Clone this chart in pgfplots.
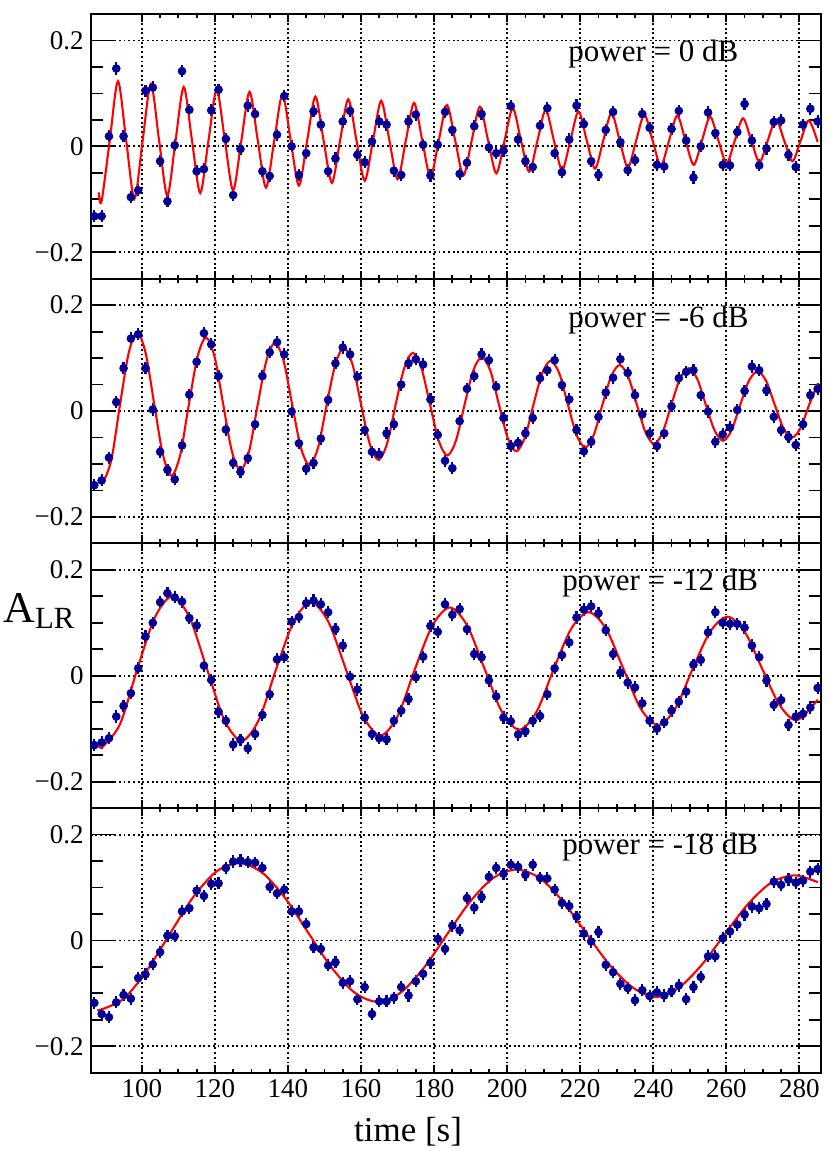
\documentclass[border=0pt]{standalone}
\usepackage{fontspec}
\setmainfont{Liberation Serif}
\usepackage{pgfplots}
\pgfplotsset{compat=1.18}

\definecolor{ptblue}{RGB}{0,0,153}
\definecolor{fitred}{RGB}{255,0,0}

% one pad of the canvas; 1 px of the reference = 0.5pt
\pgfplotsset{
  panel/.style={
    anchor=north west,
    width=365.3pt, height=132.35pt, scale only axis,
    xmin=86, xmax=286, ymin=-0.25, ymax=0.25,
    xtick={100,120,...,280}, minor x tick num=3,
    ytick={-0.2,0,0.2}, yticklabels={−0.2,0,0.2}, minor y tick num=3,
    tick align=inside,
    axis line style={line width=1pt},
    tick style={black, line width=0.9pt},
    xtick style={/pgfplots/major tick length=4pt, /pgfplots/minor tick length=2pt},
    ytick style={/pgfplots/major tick length=12pt, /pgfplots/minor tick length=6pt},
    grid=major,
    grid style={black, line width=0.95pt, dash pattern=on 0.95pt off 1.4pt},
    /pgf/number format/assume math mode=true,
    ticklabel style={font=\fontsize{13.5}{13.5}\selectfont},
  },
  pts/.style={only marks, mark=*, mark size=1.95pt, color=ptblue,
    error bars/.cd, y dir=both, y fixed=0.0115, error mark=none,
    error bar style={line width=1.1pt, color=ptblue}},
  fit/.style={no marks, smooth, color=fitred, line width=1.05pt},
}

\begin{document}
\begin{tikzpicture}
\path[use as bounding box] (0,0) rectangle (415pt,-575.5pt);

% ---- power = 0 dB
\begin{axis}[panel, at={(45.35pt,-7pt)}, xticklabels={}]
\addplot[pts] coordinates {
(87,-0.132)(89,-0.132)(91,0.019)(93,0.147)(95,0.019)(97,-0.096)(99,-0.083)(101,0.105)
(103,0.111)(105,-0.028)(107,-0.104)(109,0.002)(111,0.142)(113,0.069)(115,-0.047)(117,-0.043)
(119,0.068)(121,0.107)(123,0.014)(125,-0.092)(127,-0.005)(129,0.077)(131,0.061)(133,-0.047)
(135,-0.056)(137,0.022)(139,0.095)(141,0.000)(143,-0.054)(145,-0.013)(147,0.066)(149,0.041)
(151,-0.047)(153,-0.023)(155,0.047)(157,0.067)(159,-0.016)(161,-0.030)(163,0.009)(165,0.047)
(167,0.041)(169,-0.046)(171,-0.054)(173,0.047)(175,0.060)(177,0.003)(179,-0.055)(181,0.003)
(183,0.065)(185,0.031)(187,-0.052)(189,-0.031)(191,0.038)(193,0.061)(195,-0.002)(197,-0.013)
(199,-0.008)(201,0.076)(203,0.013)(205,-0.028)(207,-0.039)(209,0.039)(211,0.072)(213,-0.013)
(215,-0.049)(217,0.013)(219,0.077)(221,0.042)(223,-0.028)(225,-0.054)(227,0.031)(229,0.065)
(231,0.008)(233,-0.045)(235,-0.026)(237,0.061)(239,0.035)(241,-0.035)(243,-0.038)(245,0.033)
(247,0.067)(249,0.011)(251,-0.059)(253,0.000)(255,0.064)(257,0.025)(259,-0.035)(261,-0.036)
(263,0.027)(265,0.080)(267,0.011)(269,-0.036)(271,-0.004)(273,0.046)(275,0.049)(277,-0.016)
(279,-0.039)(281,0.041)(283,0.071)(285,0.047)};
\addplot[fit] coordinates {
(88.2,-0.087)(88.97,-0.104)(91.22,0.011)(93.47,0.123)(95.72,0.011)(97.97,-0.099)
(100.22,0.011)(102.48,0.118)(104.73,0.011)(106.98,-0.093)(109.23,0.011)(111.48,0.112)
(113.73,0.011)(115.98,-0.088)(118.24,0.011)(120.49,0.107)(122.74,0.011)(124.99,-0.083)
(127.24,0.011)(129.49,0.103)(131.74,0.011)(133.99,-0.078)(136.25,0.011)(138.5,0.098)
(140.75,0.011)(143.0,-0.074)(145.26,0.011)(147.51,0.094)(149.76,0.011)(152.01,-0.069)
(154.26,0.011)(156.51,0.089)(158.76,0.011)(161.01,-0.065)(163.27,0.011)(165.52,0.086)
(167.77,0.011)(170.02,-0.062)(172.27,0.011)(174.52,0.082)(176.77,0.011)(179.02,-0.058)
(181.28,0.011)(183.53,0.078)(185.78,0.011)(188.03,-0.055)(190.29,0.011)(192.54,0.075)
(194.79,0.011)(197.04,-0.051)(199.29,0.011)(201.54,0.072)(203.79,0.011)(206.04,-0.048)
(208.3,0.011)(210.55,0.069)(212.8,0.011)(215.05,-0.045)(217.3,0.011)(219.55,0.066)
(221.8,0.011)(224.05,-0.042)(226.31,0.011)(228.56,0.063)(230.81,0.011)(233.06,-0.040)
(235.32,0.011)(237.57,0.060)(239.82,0.011)(242.07,-0.037)(244.32,0.011)(246.57,0.058)
(248.82,0.011)(251.07,-0.035)(253.33,0.011)(255.58,0.056)(257.83,0.011)(260.08,-0.032)
(262.33,0.011)(264.58,0.053)(266.83,0.011)(269.08,-0.030)(271.34,0.011)(273.59,0.051)
(275.84,0.011)(278.09,-0.028)(280.35,0.011)(282.6,0.049)(285.0,0.008)};
\end{axis}

% ---- power = -6 dB
\begin{axis}[panel, at={(45.35pt,-139.35pt)}, xticklabels={}]
\addplot[pts] coordinates {
(87,-0.140)(89,-0.131)(91,-0.088)(93,0.017)(95,0.081)(97,0.137)(99,0.145)(101,0.081)
(103,0.003)(105,-0.077)(107,-0.111)(109,-0.129)(111,-0.065)(113,0.031)(115,0.093)(117,0.147)
(119,0.126)(121,0.066)(123,-0.035)(125,-0.098)(127,-0.115)(129,-0.089)(131,-0.025)(133,0.066)
(135,0.111)(137,0.130)(139,0.107)(141,-0.001)(143,-0.061)(145,-0.109)(147,-0.098)(149,-0.052)
(151,0.021)(153,0.090)(155,0.120)(157,0.107)(159,0.065)(161,-0.036)(163,-0.077)(165,-0.082)
(167,-0.042)(169,-0.025)(171,0.050)(173,0.090)(175,0.098)(177,0.088)(179,0.022)(181,-0.045)
(183,-0.094)(185,-0.108)(187,-0.019)(189,0.042)(191,0.066)(193,0.107)(195,0.096)(197,0.046)
(199,-0.013)(201,-0.066)(203,-0.060)(205,-0.042)(207,-0.013)(209,0.062)(211,0.077)(213,0.096)
(215,0.049)(217,0.022)(219,-0.036)(221,-0.076)(223,-0.058)(225,-0.011)(227,0.035)(229,0.063)
(231,0.098)(233,0.072)(235,0.030)(237,-0.006)(239,-0.042)(241,-0.066)(243,-0.042)(245,0.009)
(247,0.062)(249,0.074)(251,0.077)(253,0.030)(255,-0.001)(257,-0.058)(259,-0.044)(261,-0.031)
(263,0.002)(265,0.038)(267,0.084)(269,0.077)(271,0.039)(273,-0.011)(275,-0.036)(277,-0.049)
(279,-0.064)(281,-0.025)(283,0.030)(285,0.042)};
\addplot[fit] coordinates {
(88.2,-0.132)(89.3,-0.135)(91.66,-0.092)(94.02,0.012)(96.38,0.109)(98.7,0.149)
(101.06,0.109)(103.42,0.012)(105.78,-0.083)(108.14,-0.122)(110.5,-0.083)(112.86,0.012)
(115.22,0.102)(117.57,0.139)(119.93,0.102)(122.29,0.012)(124.65,-0.076)(127.0,-0.112)
(129.36,-0.076)(131.72,0.012)(134.08,0.095)(136.44,0.129)(138.8,0.095)(141.16,0.012)
(143.52,-0.069)(145.88,-0.102)(148.24,-0.069)(150.6,0.012)(152.96,0.088)(155.31,0.120)
(157.67,0.088)(160.03,0.012)(162.39,-0.062)(164.75,-0.092)(167.11,-0.062)(169.47,0.012)
(171.83,0.081)(174.18,0.110)(176.54,0.081)(178.9,0.012)(181.26,-0.056)(183.62,-0.084)
(185.98,-0.056)(188.34,0.012)(190.7,0.076)(193.05,0.102)(195.41,0.076)(197.77,0.012)
(200.13,-0.050)(202.49,-0.076)(204.85,-0.050)(207.2,0.012)(209.56,0.071)(211.92,0.095)
(214.28,0.071)(216.64,0.012)(219.0,-0.045)(221.36,-0.069)(223.72,-0.045)(226.08,0.012)
(228.44,0.065)(230.79,0.087)(233.15,0.065)(235.51,0.012)(237.87,-0.040)(240.23,-0.062)
(242.59,-0.040)(244.95,0.012)(247.31,0.061)(249.66,0.081)(252.02,0.061)(254.38,0.012)
(256.74,-0.036)(259.1,-0.056)(261.46,-0.036)(263.82,0.012)(266.18,0.057)(268.53,0.075)
(270.89,0.057)(273.25,0.012)(275.61,-0.032)(277.97,-0.050)(280.33,-0.032)(282.69,0.012)
(285.06,0.052)};
\end{axis}

% ---- power = -12 dB
\begin{axis}[panel, at={(45.35pt,-271.7pt)}, xticklabels={}]
\addplot[pts] coordinates {
(87,-0.131)(89,-0.126)(91,-0.118)(93,-0.077)(95,-0.057)(97,-0.033)(99,0.014)(101,0.074)
(103,0.100)(105,0.139)(107,0.156)(109,0.148)(111,0.140)(113,0.109)(115,0.095)(117,0.019)
(119,-0.008)(121,-0.068)(123,-0.085)(125,-0.130)(127,-0.121)(129,-0.137)(131,-0.110)(133,-0.074)
(135,-0.035)(137,0.031)(139,0.035)(141,0.102)(143,0.111)(145,0.137)(147,0.142)(149,0.135)
(151,0.120)(153,0.088)(155,0.057)(157,-0.002)(159,-0.026)(161,-0.079)(163,-0.110)(165,-0.118)
(167,-0.120)(169,-0.085)(171,-0.066)(173,-0.044)(175,-0.003)(177,0.036)(179,0.094)(181,0.083)
(183,0.135)(185,0.115)(187,0.126)(189,0.088)(191,0.041)(193,0.035)(195,-0.009)(197,-0.039)
(199,-0.079)(201,-0.086)(203,-0.111)(205,-0.105)(207,-0.085)(209,-0.076)(211,-0.035)(213,0.014)
(215,0.039)(217,0.063)(219,0.110)(221,0.125)(223,0.131)(225,0.118)(227,0.086)(229,0.041)
(231,0.006)(233,-0.013)(235,-0.022)(237,-0.052)(239,-0.085)(241,-0.100)(243,-0.088)(245,-0.066)
(247,-0.049)(249,-0.030)(251,0.021)(253,0.030)(255,0.082)(257,0.120)(259,0.100)(261,0.098)
(263,0.098)(265,0.091)(267,0.057)(269,0.035)(271,-0.009)(273,-0.055)(275,-0.046)(277,-0.093)
(279,-0.077)(281,-0.072)(283,-0.060)(285,-0.023)};
\addplot[fit] coordinates {
(88.2,-0.132)(89.3,-0.134)(94.05,-0.091)(98.8,0.0135)(103.55,0.110)(108.3,0.150)
(113.05,0.110)(117.8,0.0135)(122.55,-0.083)(127.3,-0.123)(132.05,-0.083)(136.8,0.0135)
(141.55,0.102)(146.3,0.139)(151.05,0.102)(155.8,0.0135)(160.55,-0.076)(165.3,-0.113)
(170.05,-0.076)(174.8,0.0135)(179.55,0.095)(184.3,0.129)(189.05,0.095)(193.8,0.0135)
(198.55,-0.068)(203.3,-0.102)(208.05,-0.068)(212.8,0.0135)(217.55,0.089)(222.3,0.120)
(227.05,0.089)(231.8,0.0135)(236.55,-0.062)(241.3,-0.093)(246.05,-0.062)(250.8,0.0135)
(255.55,0.083)(260.3,0.1115)(265.05,0.083)(269.8,0.0135)(274.55,-0.055)(279.3,-0.084)
(285.06,-0.045)};
\end{axis}

% ---- power = -18 dB
\begin{axis}[panel, at={(45.35pt,-404.05pt)}]
\addplot[pts] coordinates {
(87,-0.118)(89,-0.139)(91,-0.145)(93,-0.117)(95,-0.103)(97,-0.110)(99,-0.071)(101,-0.064)
(103,-0.045)(105,-0.022)(107,0.009)(109,0.008)(111,0.055)(113,0.061)(115,0.094)(117,0.084)
(119,0.107)(121,0.108)(123,0.137)(125,0.149)(127,0.151)(129,0.148)(131,0.147)(133,0.137)
(135,0.101)(137,0.089)(139,0.096)(141,0.055)(143,0.055)(145,0.031)(147,-0.013)(149,-0.016)
(151,-0.047)(153,-0.041)(155,-0.080)(157,-0.077)(159,-0.111)(161,-0.088)(163,-0.139)(165,-0.115)
(167,-0.115)(169,-0.108)(171,-0.088)(173,-0.104)(175,-0.077)(177,-0.063)(179,-0.042)(181,0.003)
(183,-0.016)(185,0.028)(187,0.019)(189,0.080)(191,0.062)(193,0.082)(195,0.120)(197,0.137)
(199,0.126)(201,0.143)(203,0.139)(205,0.124)(207,0.143)(209,0.118)(211,0.117)(213,0.096)
(215,0.071)(217,0.065)(219,0.045)(221,0.013)(223,-0.002)(225,0.016)(227,-0.046)(229,-0.060)
(231,-0.082)(233,-0.090)(235,-0.113)(237,-0.094)(239,-0.105)(241,-0.098)(243,-0.104)(245,-0.096)
(247,-0.085)(249,-0.111)(251,-0.088)(253,-0.069)(255,-0.030)(257,-0.030)(259,0.004)(261,0.017)
(263,0.030)(265,0.049)(267,0.064)(269,0.061)(271,0.069)(273,0.111)(275,0.105)(277,0.115)
(279,0.109)(281,0.113)(283,0.130)(285,0.135)};
\addplot[fit] coordinates {
(88.2,-0.130)(88.7,-0.131)(95.03,-0.110)(101.37,-0.057)(107.7,0.013)(114.03,0.0815)
(120.37,0.130)(126.7,0.146)(133.03,0.1276)(139.37,0.0788)(145.7,0.013)(152.03,-0.052)
(158.37,-0.0993)(164.7,-0.116)(171.03,-0.0976)(177.37,-0.0502)(183.7,0.013)(190.03,0.0748)
(196.37,0.1189)(202.7,0.134)(209.03,0.1172)(215.37,0.0728)(221.7,0.013)(228.03,-0.0462)
(234.37,-0.0889)(240.7,-0.107)(247.03,-0.0892)(253.37,-0.0452)(259.7,0.013)(266.03,0.0695)
(272.37,0.1096)(278.7,0.123)(285.06,0.110)};
\end{axis}

% labels
\node[anchor=west, inner sep=0pt, font=\fontsize{15.5}{15.5}\selectfont] at (284pt,-27pt) {power = 0 dB};
\node[anchor=west, inner sep=0pt, font=\fontsize{15.5}{15.5}\selectfont] at (284pt,-159.85pt) {power = -6 dB};
\node[anchor=west, inner sep=0pt, font=\fontsize{15.5}{15.5}\selectfont] at (281pt,-291.5pt) {power = -12 dB};
\node[anchor=west, inner sep=0pt, font=\fontsize{15.5}{15.5}\selectfont] at (281pt,-423.5pt) {power = -18 dB};
\node[font=\fontsize{17.5}{17.5}\selectfont] at (204pt,-566pt) {time [s]};
\node[anchor=base west, inner sep=0pt, font=\fontsize{22}{22}\selectfont] at (1.5pt,-311pt) {A\textsubscript{LR}};
\end{tikzpicture}
\end{document}
